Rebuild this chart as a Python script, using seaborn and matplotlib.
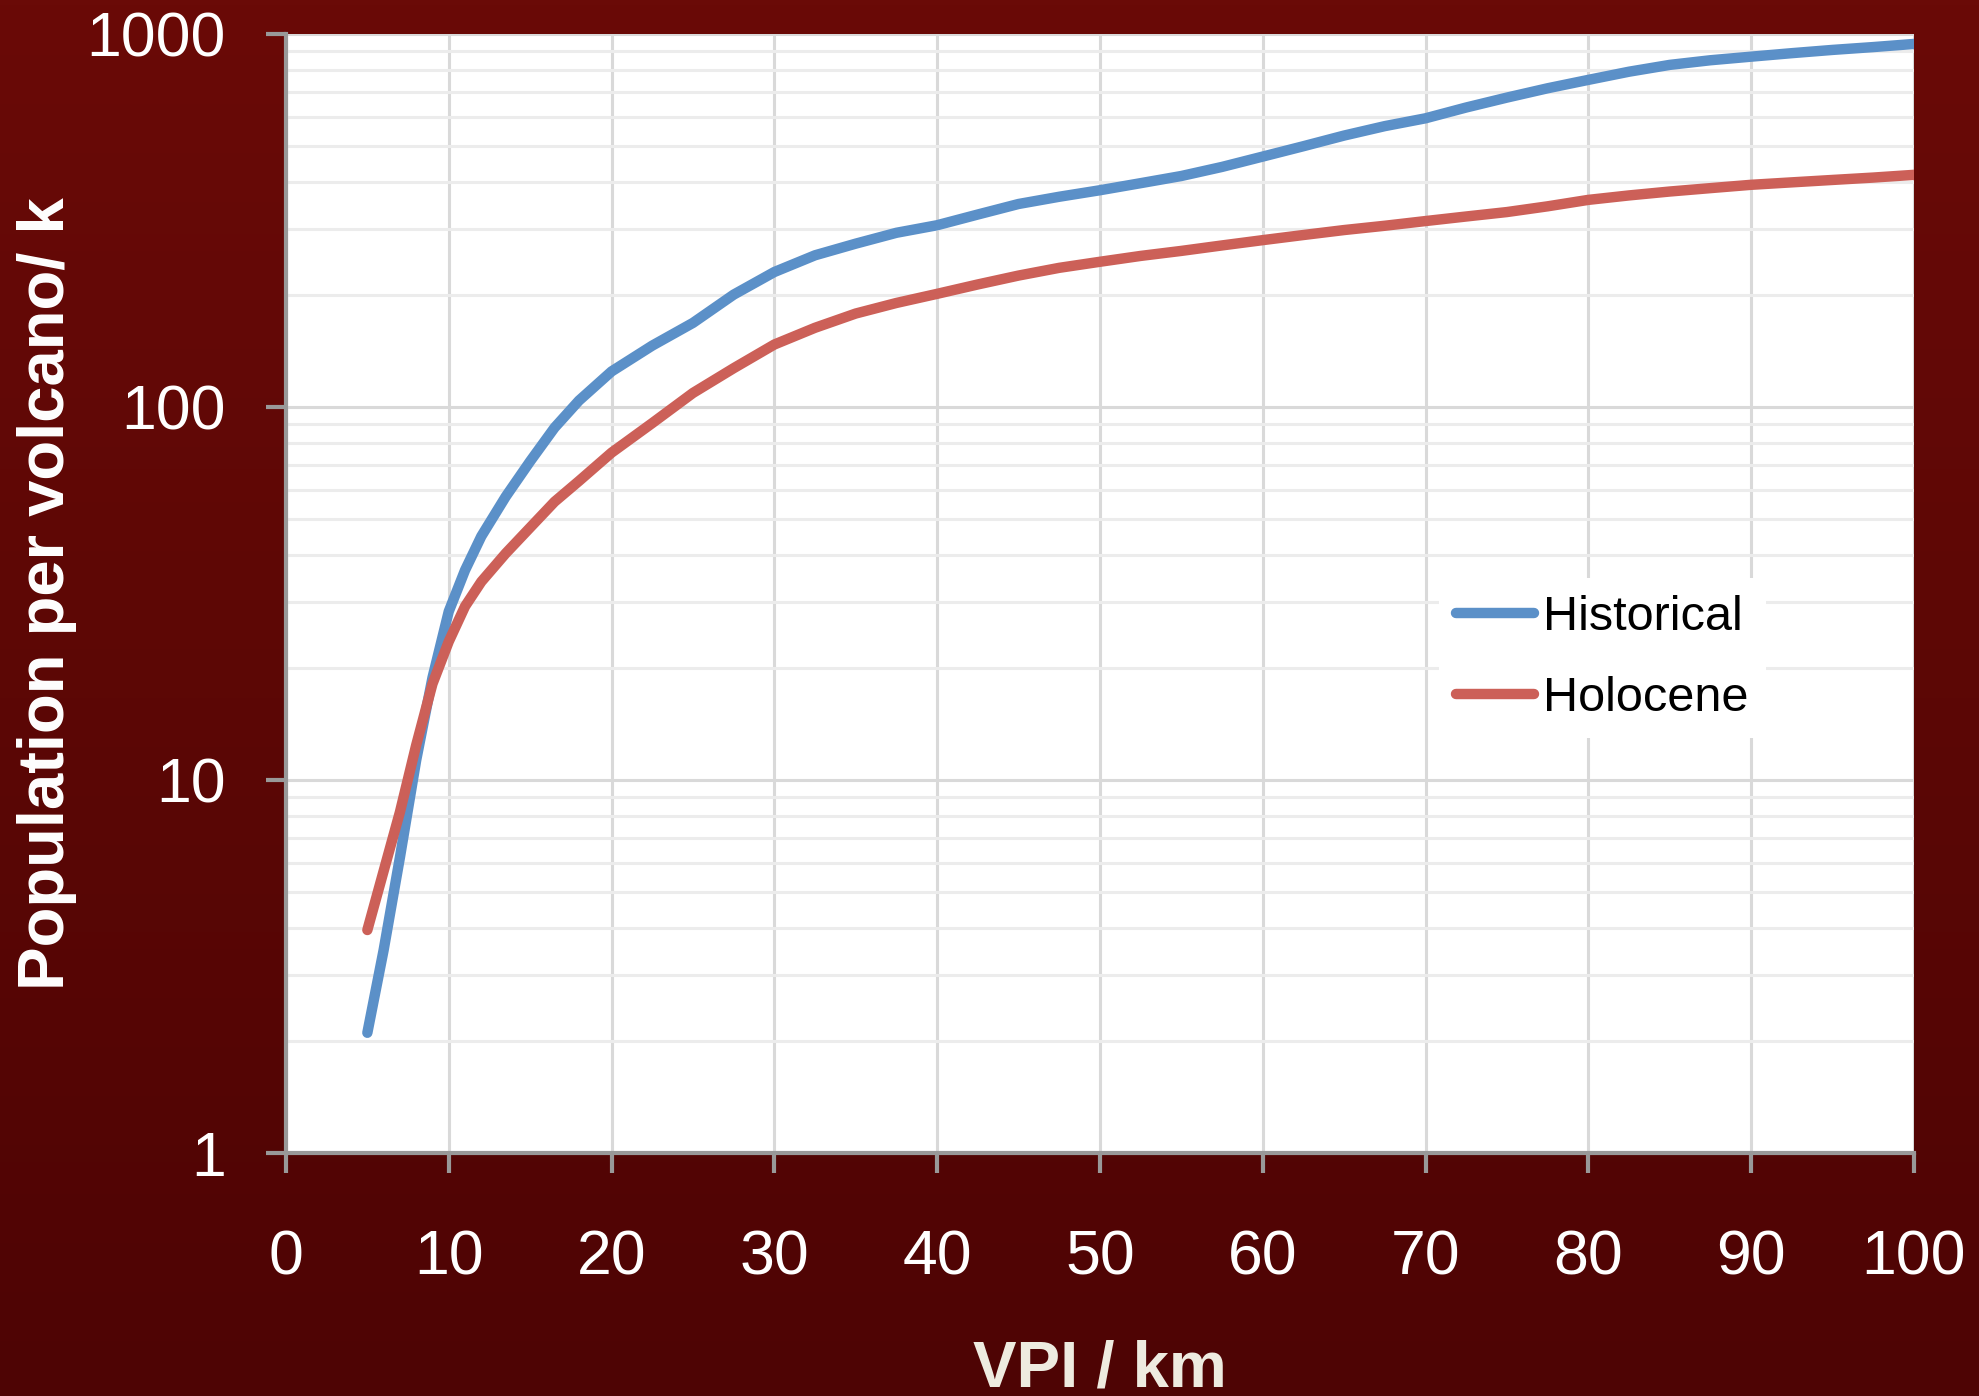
import numpy as np
import pandas as pd
import seaborn as sns
import matplotlib.pyplot as plt
from matplotlib.colors import LinearSegmentedColormap
from matplotlib.lines import Line2D
from matplotlib.ticker import LogLocator, NullFormatter, FuncFormatter

# VPI radius (km) and population per volcano (thousands)
vpi_km = [5, 6, 7, 8, 9, 10, 11, 12, 13.5, 15, 16.5, 18, 20, 22.5, 25, 27.5, 30, 32.5, 35,
          37.5, 40, 42.5, 45, 47.5, 50, 52.5, 55, 57.5, 60, 62.5, 65, 67.5, 70,
          72.5, 75, 77.5, 80, 82.5, 85, 87.5, 90, 92.5, 95, 97.5, 100]
historical = [2.1, 3.5, 6.2, 11.3, 18.8, 28.3, 36.5, 45, 57.5, 71.5, 88, 104, 124.5, 146, 168,
              200, 230, 255, 274, 293, 307, 328, 350, 366, 381, 398, 416, 440, 469, 500,
              534, 566, 594, 635, 675, 715, 753, 792, 826, 850, 869, 888, 906, 922, 940]
holocene = [3.96, 5.7, 8.2, 12.4, 18.1, 23.5, 29.2, 34, 40.5, 47.5, 55.7, 63.3, 75.4, 90.5, 109,
            127, 147, 163, 178, 190, 201, 213, 225, 236, 245, 254, 262, 271, 280, 289,
            298, 306, 315, 324, 333, 345, 359, 369, 378, 386, 394, 400, 406, 412, 419]
series_names = ["Historical", "Holocene"]
palette = {"Historical": "#5B90C8", "Holocene": "#CC6058"}
x_ticks = list(range(0, 101, 10))
y_ticks = [1, 10, 100, 1000]

df = pd.DataFrame({
    "VPI": vpi_km * 2,
    "Population": historical + holocene,
    "Catalogue": [series_names[0]] * len(vpi_km) + [series_names[1]] * len(vpi_km),
})

sns.set_style("whitegrid")
plt.rcParams["font.family"] = ["Liberation Sans", "DejaVu Sans"]

fig = plt.figure(figsize=(19.79, 13.96), dpi=100)
fig.patch.set_facecolor("#5A0606")

# dark red gradient behind everything
bg = fig.add_axes([0, 0, 1, 1], zorder=0)
grad_cmap = LinearSegmentedColormap.from_list("bg", ["#6A0A07", "#4E0404"])
bg.imshow(np.linspace(0, 1, 256).reshape(-1, 1), aspect="auto", cmap=grad_cmap)
bg.axis("off")

ax = fig.add_axes([0.1445, 0.1741, 0.8226, 0.8016], zorder=1)
ax.set_facecolor("white")

line_w = 7.5
sns.lineplot(data=df, x="VPI", y="Population", hue="Catalogue", palette=palette,
             estimator=None, linewidth=line_w, legend=False, ax=ax)
for ln in ax.lines:
    ln.set_linewidth(line_w)
    ln.set_solid_capstyle("round")
    ln.set_solid_joinstyle("round")

ax.set_yscale("log")
ax.set_xlim(0, 100)
ax.set_ylim(1, 1000)
ax.set_xticks(x_ticks)
ax.set_yticks(y_ticks)
ax.yaxis.set_minor_locator(LogLocator(base=10, subs=range(2, 10)))
ax.yaxis.set_minor_formatter(NullFormatter())
ax.yaxis.set_major_formatter(FuncFormatter(lambda v, p: f"{v:g}"))

ax.set_axisbelow(True)
ax.grid(which="major", color="#D9D9D9", linewidth=2.2)
ax.grid(which="minor", axis="y", color="#ECECEC", linewidth=2.2)
ax.grid(which="minor", axis="x", visible=False)

for side in ["top", "right"]:
    ax.spines[side].set_visible(False)
for side in ["left", "bottom"]:
    ax.spines[side].set_color("#999999")
    ax.spines[side].set_linewidth(3)

ax.tick_params(axis="both", which="major", direction="out", length=14.4, width=3,
               color="#999999", labelcolor="white", labelsize=45)
ax.tick_params(axis="y", which="major", pad=29, left=True)
ax.tick_params(axis="x", which="major", pad=40, bottom=True)
ax.tick_params(axis="y", which="minor", length=0)

ax.set_xlabel("VPI / km", fontsize=47, fontweight="bold", color="#EEEBE0", va="top")
ax.xaxis.set_label_coords(0.5, -0.167)
ax.set_ylabel("Population per volcano/ k", fontsize=47, fontweight="bold", color="white",
              va="center")
ax.yaxis.set_label_coords(-0.147, 0.5)

handles = [Line2D([], [], color=palette[n], linewidth=line_w, solid_capstyle="round")
           for n in series_names]
ax.legend(handles, series_names, loc="upper left", bbox_to_anchor=(0.727, 0.586),
          bbox_transform=fig.transFigure, fontsize=35, labelcolor="black", frameon=True,
          facecolor="white", edgecolor="none", framealpha=1, fancybox=False,
          handlelength=1.6, handletextpad=0.2, labelspacing=0.75, borderpad=0.35,
          borderaxespad=0)

fig.savefig("out.png", dpi=100)
